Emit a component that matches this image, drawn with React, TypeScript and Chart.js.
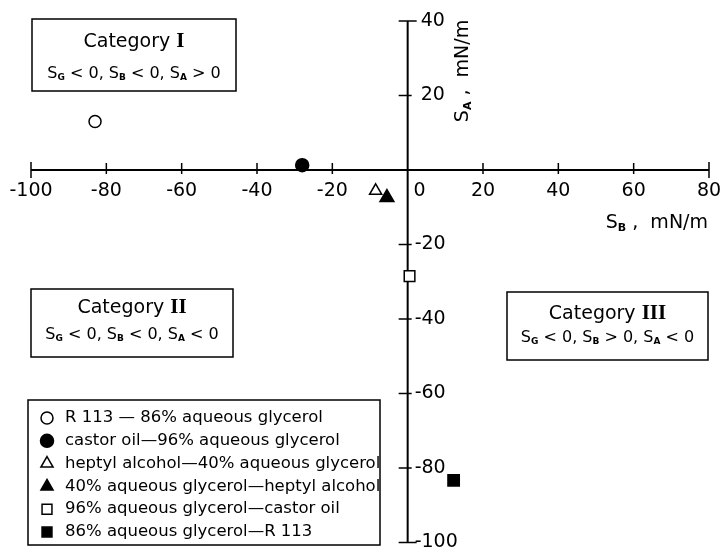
import React, { useEffect, useRef } from 'react';
import { Chart, registerables } from 'chart.js';
import { drawPoint } from 'chart.js/helpers';

Chart.register(...registerables);

// ---- data ----
const seriesLabels = [
  'R 113 — 86% aqueous glycerol',
  'castor oil—96% aqueous glycerol',
  'heptyl alcohol—40% aqueous glycerol',
  '40% aqueous glycerol—heptyl alcohol',
  '96% aqueous glycerol—castor oil',
  '86% aqueous glycerol—R 113',
];
const sbValues = [-83, -28, -8.5, -5.5, 0.5, 12.2];
const saValues = [13, 1.3, -5.6, -7.4, -28.5, -83.3];
const pointStyles = ['circle', 'circle', 'triangle', 'triangle', 'rect', 'rect'];
const filled = [false, true, false, true, false, true];
const pointSizes = [6, 6.5, 7, 8, 7.5, 8];

const xTicks = [-100, -80, -60, -40, -20, 0, 20, 40, 60, 80];
const yTicks = [40, 20, 0, -20, -40, -60, -80, -100];
const X_MIN = -100, X_MAX = 80, Y_MIN = -100, Y_MAX = 40;

const categories = [
  { num: 'I', sub: ['G', '<', 'B', '<', 'A', '>'] },
  { num: 'II', sub: ['G', '<', 'B', '<', 'A', '<'] },
  { num: 'III', sub: ['G', '<', 'B', '>', 'A', '<'] },
];

const FONT = '"DejaVu Sans", sans-serif';

type Seg = { t: string; sub?: boolean; font?: string };

function drawRich(
  ctx: CanvasRenderingContext2D,
  segs: Seg[],
  x: number,
  y: number,
  align: 'left' | 'center' | 'right',
  baseFont: string,
  subFont: string,
  subShift: number
) {
  const widths = segs.map((s) => {
    ctx.font = s.font ?? (s.sub ? subFont : baseFont);
    return ctx.measureText(s.t).width;
  });
  const total = widths.reduce((a, b) => a + b, 0);
  let cx = align === 'center' ? x - total / 2 : align === 'right' ? x - total : x;
  ctx.textAlign = 'left';
  ctx.textBaseline = 'alphabetic';
  segs.forEach((s, i) => {
    ctx.font = s.font ?? (s.sub ? subFont : baseFont);
    ctx.fillText(s.t, cx, s.sub ? y + subShift : y);
    cx += widths[i];
  });
}

function line(ctx: CanvasRenderingContext2D, x1: number, y1: number, x2: number, y2: number) {
  ctx.beginPath();
  ctx.moveTo(x1, y1);
  ctx.lineTo(x2, y2);
  ctx.stroke();
}

function condSegs(c: { sub: string[] }): Seg[] {
  const [a, o1, b, o2, d, o3] = c.sub;
  return [
    { t: 'S' }, { t: a, sub: true }, { t: ` ${o1} 0, ` },
    { t: 'S' }, { t: b, sub: true }, { t: ` ${o2} 0, ` },
    { t: 'S' }, { t: d, sub: true }, { t: ` ${o3} 0` },
  ];
}

const crossAxes = {
  id: 'crossAxes',
  beforeDatasetsDraw(chart: any) {
    const { ctx } = chart;
    const xs = chart.scales.x;
    const ys = chart.scales.y;
    const x0 = xs.getPixelForValue(0);
    const y0 = ys.getPixelForValue(0);
    ctx.save();
    ctx.strokeStyle = '#000';
    ctx.fillStyle = '#000';
    ctx.lineWidth = 2;
    line(ctx, xs.getPixelForValue(X_MIN), y0, xs.getPixelForValue(X_MAX), y0);
    line(ctx, x0, ys.getPixelForValue(Y_MAX), x0, ys.getPixelForValue(Y_MIN));
    ctx.lineWidth = 1.5;
    // x ticks
    ctx.font = `19px ${FONT}`;
    ctx.textBaseline = 'middle';
    ctx.textAlign = 'center';
    xTicks.forEach((v) => {
      const px = xs.getPixelForValue(v);
      if (v === X_MIN || v === X_MAX) line(ctx, px, y0 - 8, px, y0 + 8);
      else if (v !== 0) line(ctx, px, y0 - 7, px, y0 + 4);
      ctx.fillText(String(v), v === 0 ? px + 12 : px, y0 + 21);
    });
    // y ticks
    ctx.textAlign = 'left';
    yTicks.forEach((v) => {
      if (v === 0) return;
      const py = ys.getPixelForValue(v);
      if (v === Y_MAX || v === Y_MIN) line(ctx, x0 - 9, py, x0 + 9, py);
      else line(ctx, x0 - 9, py, x0 + 4, py);
      ctx.fillText(String(v), v < 0 ? x0 + 7 : x0 + 13, py);
    });
    // axis titles
    drawRich(
      ctx,
      [{ t: 'S' }, { t: 'B', sub: true }, { t: ' ,  mN/m' }],
      708,
      228,
      'right',
      `19px ${FONT}`,
      `bold 11px ${FONT}`,
      3
    );
    ctx.save();
    ctx.translate(461, 71);
    ctx.rotate(-Math.PI / 2);
    drawRich(
      ctx,
      [{ t: 'S' }, { t: 'A', sub: true }, { t: ' ,  mN/m' }],
      0,
      7,
      'center',
      `19px ${FONT}`,
      `bold 11px ${FONT}`,
      3
    );
    ctx.restore();

    // category boxes
    const boxes = [
      { x: 32, y: 19, w: 204, h: 72, t: 47, s: 78 },
      { x: 31, y: 289, w: 202, h: 68, t: 313, s: 339 },
      { x: 507, y: 292, w: 201, h: 68, t: 319, s: 342 },
    ];
    ctx.lineWidth = 1.5;
    boxes.forEach((b, i) => {
      ctx.strokeRect(b.x, b.y, b.w, b.h);
      const cx = b.x + b.w / 2;
      drawRich(
        ctx,
        [{ t: 'Category ' }, { t: categories[i].num, font: 'bold 21px "Liberation Serif", serif' }],
        cx,
        b.t,
        'center',
        `19px ${FONT}`,
        `19px ${FONT}`,
        0
      );
      drawRich(ctx, condSegs(categories[i]), cx, b.s, 'center', `16px ${FONT}`, `bold 9px ${FONT}`, 2);
    });
    ctx.restore();
  },
  afterDraw(chart: any) {
    const { ctx } = chart;
    const bx = 28, by = 400, bw = 352, bh = 145;
    ctx.save();
    ctx.fillStyle = '#fff';
    ctx.fillRect(bx, by, bw, bh);
    ctx.strokeStyle = '#000';
    ctx.lineWidth = 1.5;
    ctx.strokeRect(bx, by, bw, bh);
    ctx.beginPath();
    ctx.rect(bx + 1, by + 1, bw - 2, bh - 2);
    ctx.clip();
    chart.data.datasets.forEach((ds: any, i: number) => {
      const ry = 418 + i * 22.8;
      ctx.fillStyle = ds.backgroundColor;
      ctx.strokeStyle = ds.borderColor;
      ctx.lineWidth = ds.borderWidth;
      drawPoint(ctx, { pointStyle: ds.pointStyle, radius: Math.min(ds.pointRadius, 7), rotation: 0, borderWidth: ds.borderWidth }, 47, ry);
      ctx.fillStyle = '#000';
      ctx.font = `16.5px ${FONT}`;
      ctx.textAlign = 'left';
      ctx.textBaseline = 'middle';
      ctx.fillText(ds.label, 65, ry);
    });
    ctx.restore();
  },
};

export default function App() {
  const ref = useRef<HTMLCanvasElement>(null);
  useEffect(() => {
    if (!ref.current) return;
    const datasets = seriesLabels.map((label, i) => ({
      label,
      data: [{ x: sbValues[i], y: saValues[i] }],
      pointStyle: pointStyles[i],
      pointRadius: pointSizes[i],
      pointHoverRadius: pointSizes[i],
      backgroundColor: filled[i] ? '#000' : '#fff',
      borderColor: '#000',
      borderWidth: 1.5,
      showLine: false,
      clip: false as any,
    }));
    const chart = new Chart(ref.current, {
      type: 'scatter',
      data: { datasets },
      plugins: [crossAxes],
      options: {
        animation: false,
        responsive: false,
        devicePixelRatio: 1,
        layout: { padding: { left: 31, right: 11, top: 21, bottom: 6 } },
        scales: {
          x: { type: 'linear', min: X_MIN, max: X_MAX, display: false },
          y: { type: 'linear', min: Y_MIN, max: Y_MAX, display: false },
        },
        plugins: { legend: { display: false }, tooltip: { enabled: false }, title: { display: false } },
      },
    });
    return () => chart.destroy();
  }, []);
  return (
    <div style={{ position: 'absolute', left: 0, top: 0, width: 720, height: 552, background: '#fff' }}>
      <canvas ref={ref} width={720} height={552} />
    </div>
  );
}
